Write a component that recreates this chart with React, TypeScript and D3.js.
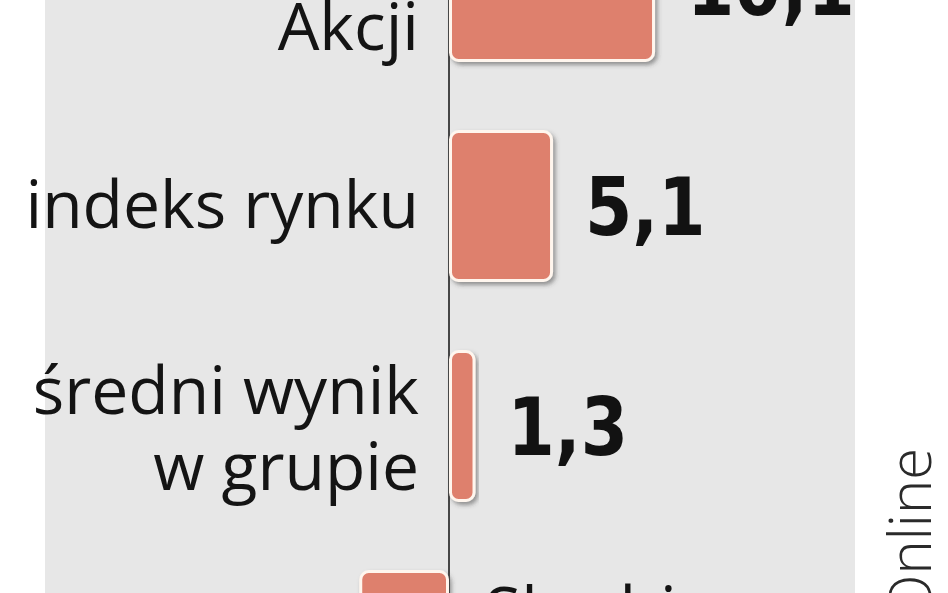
import React from "react";
import * as d3 from "d3";

const W = 948;
const H = 593;

const labelLines: string[][] = [
  ["", "Akcji"],
  ["indeks rynku"],
  ["średni wynik", "w grupie"],
  ["Skarbiec", ""],
];
const values: number[] = [10.1, 5.1, 1.3, -4.4];
const valueLabels: string[] = ["10,1", "5,1", "1,3", "-4,4"];
const sourceText = "Online";

export default function App() {
  const idx = values.map((_, i) => String(i));
  const y = d3
    .scaleBand<string>()
    .domain(idx)
    .range([-124, 756])
    .paddingInner(0.31)
    .paddingOuter(0.155);
  const x = d3.scaleLinear().domain([0, 10]).range([449, 653]);
  const x0 = x(0);

  return (
    <svg
      width={W}
      height={H}
      style={{ position: "fixed", left: 0, top: 0, background: "#fff" }}
    >
      <defs>
        <filter id="sh" x="-20%" y="-20%" width="140%" height="140%">
          <feDropShadow dx="2.5" dy="3" stdDeviation="2" floodColor="#3a3a3a" floodOpacity="0.5" />
        </filter>
      </defs>
      <rect x={0} y={0} width={W} height={H} fill="#ffffff" />
      <rect x={45} y={0} width={810} height={H} fill="#e7e7e7" />
      <line x1={x0} x2={x0} y1={0} y2={H} stroke="#1e1e1e" strokeWidth={1.6} />
      {values.map((v, i) => {
        const by = y(String(i)) as number;
        const bh = y.bandwidth();
        const xa = Math.min(x0, x(v));
        const bw = Math.abs(x(v) - x0);
        const cy = by + bh / 2;
        const pos = v >= 0;
        const lines = labelLines[i];
        const n = lines.length;
        const firstBase = cy + 22 - (n - 1) * 34;
        return (
          <g key={i}>
            <rect
              x={xa + 1.5}
              y={by + 1.5}
              width={bw - 3}
              height={bh - 3}
              rx={8}
              fill="#de806d"
              stroke="#fff6ee"
              strokeWidth={3}
              filter="url(#sh)"
            />
            <text
              textAnchor={pos ? "end" : "start"}
              fontFamily="'Open Sans', sans-serif"
              fontWeight={500}
              fontSize={66}
              fill="#141414"
            >
              {lines.map((l, j) => (
                <tspan key={j} x={pos ? x0 - 30 : x0 + 36} y={firstBase + j * 76}>
                  {l}
                </tspan>
              ))}
            </text>
            <text
              transform={`translate(${pos ? x(v) + 32 : x(v) - 32},${cy + 29}) scale(0.85,1)`}
              textAnchor={pos ? "start" : "end"}
              fontFamily="'DejaVu Sans', sans-serif"
              fontWeight="bold"
              fontSize={80}
              fill="#121212"
            >
              {valueLabels[i]}
            </text>
          </g>
        );
      })}
      <text
        transform="translate(931,448) rotate(-90)"
        textAnchor="end"
        fontFamily="'Open Sans', sans-serif"
        fontWeight={300}
        fontSize={58}
        fill="#2a2a2a"
      >
        {sourceText}
      </text>
    </svg>
  );
}
